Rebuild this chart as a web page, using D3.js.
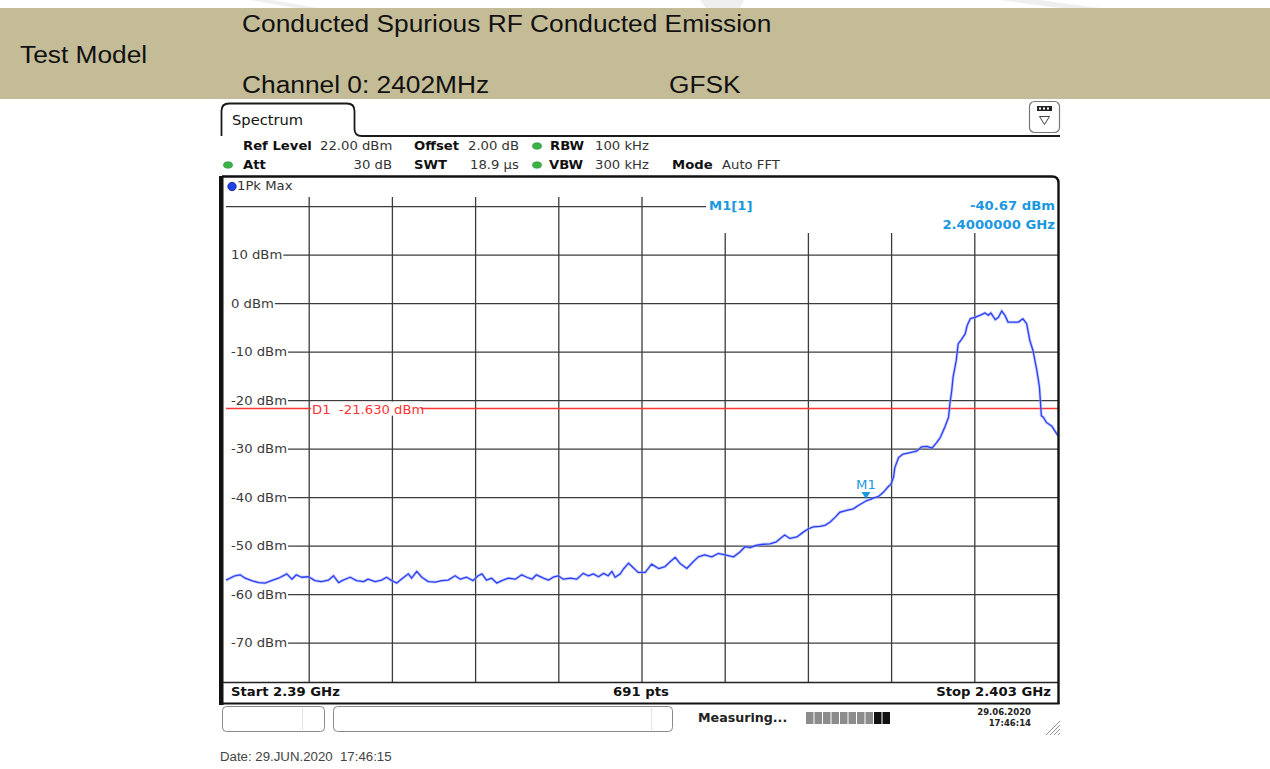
<!DOCTYPE html>
<html>
<head>
<meta charset="utf-8">
<script src="https://cdn.jsdelivr.net/npm/d3@7"></script>
<style>
  html, body { margin: 0; padding: 0; background: #fff; }
  svg { display: block; }
</style>
</head>
<body>
<svg id="chart" width="1270" height="769"></svg>
<script>
// ---- Measurement data -------------------------------------------------
// Peak-hold trace: frequency (MHz) and level (dBm)
const traceFreqMHz = [
  2390.00, 2390.14, 2390.22, 2390.30, 2390.40, 2390.51, 2390.61, 2390.71, 2390.82, 2390.95,
  2391.03, 2391.10, 2391.18, 2391.29, 2391.39, 2391.49, 2391.60, 2391.68, 2391.76, 2391.83,
  2391.94, 2392.04, 2392.15, 2392.22, 2392.33, 2392.43, 2392.51, 2392.59, 2392.67, 2392.74,
  2392.85, 2392.90, 2392.98, 2393.06, 2393.16, 2393.27, 2393.37, 2393.47, 2393.58, 2393.66,
  2393.76, 2393.86, 2393.94, 2394.00, 2394.07, 2394.15, 2394.23, 2394.31, 2394.41, 2394.52,
  2394.62, 2394.70, 2394.78, 2394.85, 2394.96, 2395.04, 2395.11, 2395.19, 2395.27, 2395.38,
  2395.48, 2395.58, 2395.66, 2395.74, 2395.82, 2395.90, 2395.97, 2396.03, 2396.08, 2396.16,
  2396.21, 2396.29, 2396.36, 2396.44, 2396.55, 2396.65, 2396.76, 2396.86, 2396.94, 2397.02,
  2397.09, 2397.20, 2397.30, 2397.38, 2397.48, 2397.59, 2397.69, 2397.80, 2397.93, 2398.03,
  2398.11, 2398.19, 2398.29, 2398.40, 2398.50, 2398.60, 2398.68, 2398.73, 2398.81, 2398.92,
  2399.02, 2399.10, 2399.18, 2399.28, 2399.36, 2399.44, 2399.52, 2399.59, 2399.70, 2399.80,
  2399.88, 2400.00, 2400.06, 2400.11, 2400.19, 2400.27, 2400.35, 2400.39, 2400.43, 2400.45,
  2400.51, 2400.58, 2400.69, 2400.79, 2400.87, 2400.95, 2401.03, 2401.10, 2401.16, 2401.23,
  2401.29, 2401.31, 2401.34, 2401.36, 2401.41, 2401.44, 2401.49, 2401.55, 2401.58, 2401.63,
  2401.70, 2401.78, 2401.86, 2401.91, 2401.95, 2402.02, 2402.07, 2402.12, 2402.17, 2402.22,
  2402.30, 2402.38, 2402.45, 2402.51, 2402.56, 2402.61, 2402.67, 2402.71, 2402.74, 2402.77,
  2402.82, 2402.90, 2402.95, 2403.00
];
const traceLevelDbm = [
  -57.0, -56.1, -55.9, -56.6, -57.1, -57.5, -57.6, -57.1, -56.6, -55.7,
  -56.8, -55.9, -56.4, -56.3, -57.1, -57.3, -57.0, -56.1, -57.5, -57.0,
  -56.4, -57.1, -57.3, -56.8, -57.3, -57.0, -56.4, -57.1, -57.6, -56.8,
  -55.7, -56.6, -55.2, -56.4, -57.3, -57.4, -57.1, -57.0, -56.1, -56.8,
  -56.4, -57.1, -56.1, -55.7, -57.0, -56.6, -57.6, -57.1, -56.6, -56.8,
  -55.9, -56.4, -56.8, -55.9, -56.6, -57.0, -56.4, -56.1, -56.8, -56.6,
  -56.8, -55.6, -56.1, -55.7, -56.3, -55.6, -56.1, -55.2, -56.4, -55.7,
  -54.7, -53.5, -54.4, -55.4, -55.4, -53.7, -54.6, -54.2, -53.2, -52.3,
  -53.5, -54.6, -53.2, -52.2, -51.8, -52.2, -51.5, -51.8, -52.2, -51.2,
  -50.1, -50.3, -49.8, -49.6, -49.5, -49.1, -48.2, -47.7, -48.4, -48.1,
  -47.1, -46.4, -46.0, -45.9, -45.7, -45.0, -44.0, -43.0, -42.6, -42.3,
  -41.6, -40.67, -40.4, -40.1, -39.8, -38.9, -37.7, -37.2, -35.8, -33.8,
  -31.7, -31.0, -30.7, -30.4, -29.5, -29.4, -29.8, -28.7, -27.6, -25.5,
  -23.4, -20.7, -17.9, -15.2, -11.7, -8.3, -7.4, -6.2, -4.5, -3.1,
  -2.8, -2.4, -1.9, -2.4, -1.9, -3.3, -2.8, -1.5, -2.4, -3.8,
  -3.8, -3.8, -3.1, -4.1, -7.6, -9.7, -13.8, -17.2, -23.1, -23.4,
  -24.5, -25.2, -26.2, -27.2
];

// Level grid lines (dBm) and the ones that carry a label
const gridLevels = [20, 10, 0, -10, -20, -30, -40, -50, -60, -70];
const labelLevels = [10, 0, -10, -20, -30, -40, -50, -60, -70];

// Instrument settings
const refLevelDbm = 22;
const rangeDb = 100;
const startFreqMHz = 2390;
const stopFreqMHz = 2403;
const freqDivisions = 10;
const sweepPoints = 691;
const displayLineDbm = -21.63;
const markerFreqMHz = 2400;
const markerLevelDbm = -40.67;

// Header lines
const titleText = "Conducted Spurious RF Conducted Emission";
const rowLabel = "Test Model";
const channelText = "Channel 0: 2402MHz";
const modulationText = "GFSK";

// ---- Drawing ----------------------------------------------------------
const svg = d3.select("#chart");
const SX = 1.1;
const INST = "'DejaVu Sans', Verdana, sans-serif";
const ARIAL = "'Liberation Sans', Arial, sans-serif";

function label(g, x, y, s, o = {}) {
  return g.append("text")
    .attr("transform", `translate(${x},${y}) scale(${o.sx ?? SX},1)`)
    .attr("text-anchor", o.anchor || "start")
    .attr("dominant-baseline", "central")
    .attr("xml:space", "preserve")
    .style("font-family", o.family || INST)
    .style("font-size", (o.size || 12) + "px")
    .style("font-weight", o.weight || "normal")
    .attr("fill", o.fill || "#333")
    .text(s);
}

// faint watermark fragments above the header band
const wm = svg.append("g").attr("fill", "#efefef");
wm.append("path").attr("d", "M250,0 L272,0 L318,8 L296,8 Z");
wm.append("path").attr("d", "M700,0 L744,0 L740,8 L706,8 Z");
wm.append("path").attr("d", "M1000,0 L1040,0 L1100,8 L1060,8 Z");

// header band
svg.append("rect").attr("x", 0).attr("y", 8).attr("width", 1270).attr("height", 91)
  .attr("fill", "#c4bc97");
const hdr = svg.append("g");
const hOpt = { family: ARIAL, size: 23.5, sx: 1.12, fill: "#111" };
label(hdr, 242, 24, titleText, hOpt);
label(hdr, 20, 55, rowLabel, hOpt);
label(hdr, 242, 85, channelText, hOpt);
label(hdr, 669, 85, modulationText, hOpt);

// ---- instrument screen ----
const scr = svg.append("g");

// tab
scr.append("path")
  .attr("d", "M221.5,136 L221.5,111 Q221.5,103.5 229,103.5 L347,103.5 Q354.5,103.5 354.5,111 L354.5,129 Q354.5,136 362,136 L1060,136")
  .attr("fill", "none").attr("stroke", "#1a1a1a").attr("stroke-width", 1.8);
label(scr, 232, 120, "Spectrum", { size: 14, fill: "#111", sx: 1.05 });

// menu icon
scr.append("rect").attr("x", 1029.5).attr("y", 101.5).attr("width", 30).attr("height", 31).attr("rx", 5)
  .attr("fill", "#fff").attr("stroke", "#777").attr("stroke-width", 1.2);
scr.append("rect").attr("x", 1037).attr("y", 106).attr("width", 15).attr("height", 5).attr("fill", "#222");
[1040, 1044, 1048].forEach(cx => scr.append("rect").attr("x", cx - 1).attr("y", 107.5).attr("width", 2).attr("height", 2).attr("fill", "#fff"));
scr.append("path").attr("d", "M1039.5,116.5 L1049.5,116.5 L1044.5,124.5 Z")
  .attr("fill", "none").attr("stroke", "#444").attr("stroke-width", 1);

// settings rows
const p = scr.append("g");
const r1 = 146, r2 = 165;
const bold = { weight: "bold", fill: "#111" };
const dot = (x, y) => p.append("ellipse").attr("cx", x).attr("cy", y).attr("rx", 4.5).attr("ry", 3.2)
  .attr("fill", "#3cb347").attr("stroke", "#2a8a33").attr("stroke-width", 0.6);
label(p, 243, r1, "Ref Level", bold);
label(p, 320, r1, "22.00 dBm");
label(p, 414, r1, "Offset", bold);
label(p, 468, r1, "2.00 dB");
dot(537, r1);
label(p, 550, r1, "RBW", bold);
label(p, 595, r1, "100 kHz");
dot(228, r2);
label(p, 243, r2, "Att", bold);
label(p, 392, r2, "30 dB", { anchor: "end" });
label(p, 414, r2, "SWT", bold);
label(p, 470, r2, "18.9 µs");
dot(537, r2);
label(p, 549, r2, "VBW", bold);
label(p, 595, r2, "300 kHz");
label(p, 672, r2, "Mode", bold);
label(p, 722, r2, "Auto FFT");

// scales
const plotL = 226, plotR = 1058, plotT = 197, plotB = 682;
const x = d3.scaleLinear().domain([startFreqMHz, stopFreqMHz]).range([plotL, plotR]);
const y = d3.scaleLinear().domain([refLevelDbm - rangeDb, refLevelDbm]).range([plotB, plotT]);

// grid
const grid = scr.append("g").attr("stroke", "#3c3c3c").attr("stroke-width", 1.3).attr("fill", "none");
const freqGrid = d3.range(1, freqDivisions).map(i => startFreqMHz + i * (stopFreqMHz - startFreqMHz) / freqDivisions);
grid.selectAll("line.v").data(freqGrid).join("line").attr("class", "v")
  .attr("x1", d => x(d)).attr("x2", d => x(d)).attr("y1", plotT).attr("y2", plotB);

const labels = scr.append("g");
gridLevels.forEach(lv => {
  let startX = plotL;
  if (labelLevels.includes(lv)) {
    const t = label(labels, 231, y(lv), `${lv} dBm`, { fill: "#3a3a3a" });
    startX = 231 + t.node().getComputedTextLength() * SX + 1;
  }
  grid.append("line").attr("x1", startX).attr("x2", plotR).attr("y1", y(lv)).attr("y2", y(lv));
});

// marker readout box
scr.append("rect").attr("x", 706).attr("y", plotT).attr("width", plotR - 706).attr("height", 36).attr("fill", "#fff");
const blue = "#1b98df";
label(scr, 709, 206, "M1[1]", { weight: "bold", fill: blue });
label(scr, 1055, 206, `${markerLevelDbm.toFixed(2)} dBm`, { weight: "bold", fill: blue, anchor: "end" });
label(scr, 1055, 225, `${(markerFreqMHz / 1000).toFixed(7)} GHz`, { weight: "bold", fill: blue, anchor: "end" });

// display line D1
const red = "#ff3434";
scr.append("line").attr("x1", plotL).attr("x2", plotR).attr("y1", y(displayLineDbm)).attr("y2", y(displayLineDbm))
  .attr("stroke", red).attr("stroke-width", 1.5);
scr.append("rect").attr("x", 311).attr("y", y(displayLineDbm) - 7).attr("width", 110).attr("height", 14).attr("fill", "#fff");
label(scr, 312, y(displayLineDbm) + 1, "D1", { fill: red });
label(scr, 339, y(displayLineDbm) + 1, `${displayLineDbm.toFixed(3)} dBm`, { fill: red });

// trace
const pts = traceFreqMHz.map((f, i) => [f, traceLevelDbm[i]]);
const line = d3.line().x(d => x(d[0])).y(d => y(d[1]));
scr.append("path").attr("d", line(pts)).attr("fill", "none")
  .attr("stroke", "#9aa6ff").attr("stroke-opacity", 0.55).attr("stroke-width", 3);
scr.append("path").attr("d", line(pts)).attr("fill", "none")
  .attr("stroke", "#2b3ff2").attr("stroke-width", 1.3).attr("stroke-linejoin", "round");

// marker M1
const mx = x(markerFreqMHz), my = y(markerLevelDbm);
scr.append("path").attr("d", `M${mx - 4.5},${my - 9} L${mx + 4.5},${my - 9} L${mx},${my - 2} Z`).attr("fill", blue);
label(scr, mx, my - 16, "M1", { fill: blue, anchor: "middle" });

// frame
scr.append("rect").attr("x", 219).attr("y", 176).attr("width", 4.5).attr("height", 529).attr("fill", "#111");
scr.append("path").attr("d", "M222,176.5 L1052,176.5 Q1058.5,176.5 1058.5,183 L1058.5,704")
  .attr("fill", "none").attr("stroke", "#111").attr("stroke-width", 2.4);
scr.append("line").attr("x1", 222).attr("x2", 1059.5).attr("y1", 703.5).attr("y2", 703.5)
  .attr("stroke", "#111").attr("stroke-width", 2);
scr.append("line").attr("x1", 223).attr("x2", 1058).attr("y1", plotB + 0.5).attr("y2", plotB + 0.5)
  .attr("stroke", "#222").attr("stroke-width", 1.6);

// trace label
scr.append("circle").attr("cx", 232).attr("cy", 186.5).attr("r", 4.2)
  .attr("fill", "#2040e8").attr("stroke", "#0b1c7a").attr("stroke-width", 0.8);
label(scr, 237, 186, "1Pk Max");

// frequency row
label(scr, 231, 692, `Start ${startFreqMHz / 1000} GHz`, bold);
label(scr, 641, 692, `${sweepPoints} pts`, { ...bold, anchor: "middle" });
label(scr, 1051, 692, `Stop ${stopFreqMHz / 1000} GHz`, { ...bold, anchor: "end" });

// status bar
const sb = scr.append("g");
sb.append("rect").attr("x", 222.5).attr("y", 706.5).attr("width", 102).attr("height", 25).attr("rx", 4)
  .attr("fill", "#fff").attr("stroke", "#8a8a8a");
sb.append("line").attr("x1", 302.5).attr("x2", 302.5).attr("y1", 708).attr("y2", 730).attr("stroke", "#e4e4e4");
sb.append("rect").attr("x", 333.5).attr("y", 706.5).attr("width", 339).attr("height", 25).attr("rx", 4)
  .attr("fill", "#fff").attr("stroke", "#8a8a8a");
sb.append("line").attr("x1", 651.5).attr("x2", 651.5).attr("y1", 708).attr("y2", 730).attr("stroke", "#e4e4e4");
label(sb, 698, 718, "Measuring...", { weight: "bold", fill: "#222", size: 11.5 });
d3.range(10).forEach(i => {
  sb.append("rect").attr("x", 806 + i * 8.5).attr("y", 712).attr("width", 7.5).attr("height", 12)
    .attr("fill", i < 8 ? "#8c8c8c" : "#111");
});
label(sb, 1031, 712, "29.06.2020", { weight: "bold", fill: "#222", size: 8.5, anchor: "end", sx: 1.0 });
label(sb, 1031, 723, "17:46:14", { weight: "bold", fill: "#222", size: 8.5, anchor: "end", sx: 1.0 });
[0, 4, 8, 12].forEach(o => sb.append("line")
  .attr("x1", 1046 + o).attr("y1", 735).attr("x2", 1060).attr("y2", 721 + o)
  .attr("stroke", "#888").attr("stroke-width", 0.9));

// capture time
label(svg, 220, 757, "Date: 29.JUN.2020  17:46:15", { family: ARIAL, size: 12.5, sx: 1.06, fill: "#444" });
</script>
</body>
</html>
